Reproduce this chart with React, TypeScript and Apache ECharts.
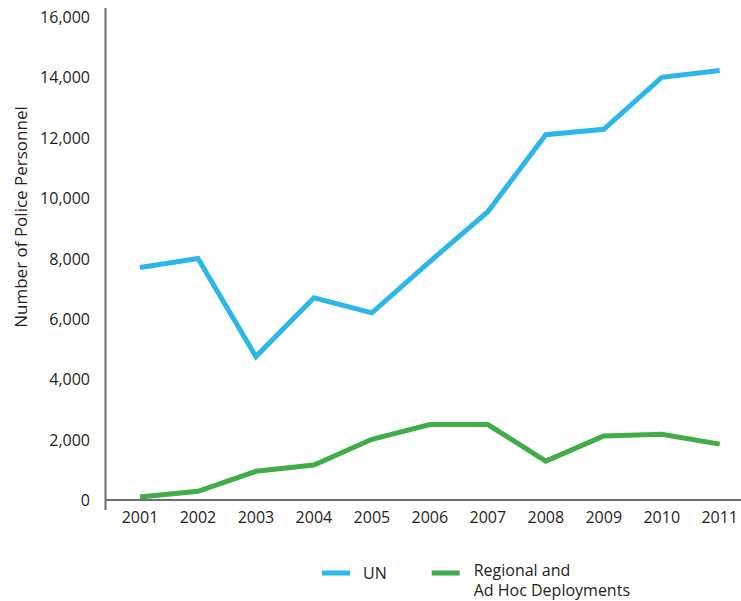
import React, { useEffect, useRef } from "react";
import * as echarts from "echarts";

const years = ["2001", "2002", "2003", "2004", "2005", "2006", "2007", "2008", "2009", "2010", "2011"];
const unValues = [7700, 8000, 4750, 6700, 6200, 7900, 9550, 12100, 12280, 14000, 14230];
const regionalValues = [100, 290, 950, 1160, 2010, 2500, 2500, 1290, 2120, 2180, 1850];
const yTicks = { min: 0, max: 16000, interval: 2000 };
const yTitle = "Number of Police Personnel";
const seriesNames = ["UN", "Regional and\nAd Hoc Deployments"];

const FONT = "'Open Sans', 'Noto Sans', sans-serif";
const TEXT = "#231f20";
const AXIS = "#6d6e71";
const BLUE = "#2bb7ea";
const GREEN = "#40ad48";

export default function App() {
  const ref = useRef<HTMLDivElement>(null);
  useEffect(() => {
    if (!ref.current) return;
    const chart = echarts.init(ref.current, undefined, { renderer: "svg" });
    chart.setOption({
      animation: false,
      backgroundColor: "#ffffff",
      textStyle: { fontFamily: FONT },
      grid: { left: 140, right: 19.3, top: 17, bottom: 101, containLabel: false },
      xAxis: {
        type: "category",
        data: years,
        boundaryGap: false,
        axisLine: { show: false },
        axisTick: { show: false },
        axisLabel: { color: TEXT, fontSize: 16, fontFamily: FONT, margin: 9 },
        splitLine: { show: false },
      },
      yAxis: {
        type: "value",
        min: yTicks.min,
        max: yTicks.max,
        interval: yTicks.interval,
        axisLine: { show: false },
        axisTick: { show: false },
        splitLine: { show: false },
        axisLabel: {
          color: TEXT,
          fontSize: 16,
          fontFamily: FONT,
          margin: 50,
          formatter: (v: number) => v.toLocaleString("en-US"),
        },
      },
      legend: {
        left: 322,
        top: 548,
        padding: 0,
        icon: "rect",
        itemWidth: 28,
        itemHeight: 5,
        itemGap: 45,
        formatter: (name: string) =>
          name === seriesNames[1]
            ? ["{g| }"].concat(name.split("\n").map((s) => `{t|${s}}`)).join("\n")
            : name,
        textStyle: { color: TEXT, fontSize: 16, fontFamily: FONT, padding: [0, 0, 0, 8] },
        data: [
          { name: seriesNames[0] },
          {
            name: seriesNames[1],
            textStyle: {
              padding: [0, 0, 0, 9],
              rich: {
                g: { fontSize: 10, lineHeight: 14 },
                t: { fontSize: 16, lineHeight: 20, color: TEXT, fontFamily: FONT },
              },
            },
          },
        ],
      },
      graphic: [
        {
          type: "line",
          shape: { x1: 105.5, y1: 8, x2: 105.5, y2: 510 },
          style: { stroke: AXIS, lineWidth: 2 },
          silent: true,
        },
        {
          type: "line",
          shape: { x1: 105, y1: 500, x2: 741, y2: 500 },
          style: { stroke: AXIS, lineWidth: 2 },
          silent: true,
        },
        {
          type: "text",
          x: 20,
          y: 217,
          rotation: Math.PI / 2,
          style: {
            text: yTitle,
            fill: TEXT,
            font: `17px ${FONT}`,
            align: "center",
            verticalAlign: "middle",
          },
        },
      ],
      series: [
        {
          name: seriesNames[0],
          type: "line",
          data: unValues,
          symbol: "none",
          lineStyle: { color: BLUE, width: 5, join: "miter" },
          itemStyle: { color: BLUE },
        },
        {
          name: seriesNames[1],
          type: "line",
          data: regionalValues,
          symbol: "none",
          lineStyle: { color: GREEN, width: 5, join: "miter" },
          itemStyle: { color: GREEN },
        },
      ],
    });
    return () => chart.dispose();
  }, []);
  return (
    <div
      ref={ref}
      style={{ position: "fixed", left: 0, top: 0, width: 741, height: 601, background: "#fff" }}
    />
  );
}
